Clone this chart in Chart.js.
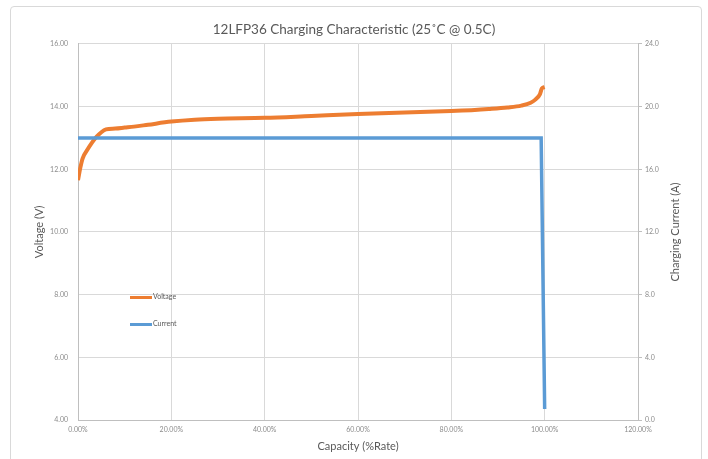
<!DOCTYPE html>
<html>
<head>
<meta charset="utf-8">
<script src="https://cdn.jsdelivr.net/npm/chart.js@4.4.1/dist/chart.umd.min.js"></script>
<style>
  body { margin: 0; background: #fff; font-family: Lato, "Open Sans", sans-serif; }
  #frame { position: absolute; left: 10px; top: 6px; width: 690px; height: 470px;
           border: 1px solid #d9d9d9; border-radius: 4px; }
  #wrap { position: absolute; left: 0; top: 0; width: 708px; height: 459px; }
  .leg { position: absolute; font-size: 7px; color: #595959; line-height: 8px; }
  .leg span { display: inline-block; width: 22px; height: 3px; vertical-align: middle; margin-right: 1px; }
  #rtitle { position: absolute; left: 675px; top: 232px; width: 200px; margin-left: -100px; margin-top: -7px;
            text-align: center; font-size: 11px; line-height: 14px; color: #595959;
            transform: rotate(-90deg); white-space: nowrap; }
</style>
</head>
<body>
<div id="frame"></div>
<div id="wrap"><canvas id="chart" width="708" height="459"></canvas></div>
<div class="leg" style="left:130px; top:292px;"><span style="background:#ED7D31"></span>Voltage</div>
<div class="leg" style="left:130px; top:319px;"><span style="background:#5B9BD5"></span>Current</div>
<div id="rtitle">Charging Current (A)</div>
<script>
// capacity in %, voltage in V
var voltCapacity = [0, 0.5, 1, 2, 3, 4, 5, 6, 8, 10, 12, 15, 20, 25, 30, 40, 50, 60, 70, 80, 85, 88, 92, 95, 97, 98, 99, 99.4, 100];
var voltage      = [11.65, 12.05, 12.35, 12.62, 12.85, 13.04, 13.18, 13.27, 13.30, 13.33, 13.36, 13.42, 13.52, 13.58, 13.61, 13.64, 13.70, 13.76, 13.81, 13.86, 13.89, 13.92, 13.97, 14.03, 14.12, 14.22, 14.40, 14.58, 14.62];

// charging current in A
var currCapacity = [0, 99.25, 100];
var current      = [18, 18, 0.7];

var gridColor = '#d9d9d9';
var tickColor = '#8c8c8c';
var titleColor = '#595959';

function toPoints(xs, ys) {
    return xs.map(function (x, i) { return { x: x, y: ys[i] }; });
}

var ctx = document.getElementById('chart');
new Chart(ctx, {
    type: 'line',
    data: {
        datasets: [{
            label: 'Voltage',
            data: toPoints(voltCapacity, voltage),
            yAxisID: 'y',
            borderColor: '#ED7D31',
            borderWidth: 4,
            pointRadius: 0,
            cubicInterpolationMode: 'monotone',
            order: 2
        }, {
            label: 'Current',
            data: toPoints(currCapacity, current),
            yAxisID: 'y1',
            borderColor: '#5B9BD5',
            borderWidth: 3.5,
            pointRadius: 0,
            order: 1
        }]
    },
    options: {
        responsive: false,
        animation: false,
        layout: { padding: 0 },
        plugins: {
            legend: { display: false },
            tooltip: { enabled: false },
            title: {
                display: true,
                text: '12LFP36 Charging Characteristic (25˚C @ 0.5C)',
                color: titleColor,
                font: { family: 'Lato', size: 13.5, weight: 'normal', lineHeight: 1.25 },
                padding: { top: 21, bottom: 6 }
            }
        },
        scales: {
            x: {
                type: 'linear',
                min: 0, max: 120,
                afterFit: function (s) { s.height = 39; },
                ticks: {
                    stepSize: 20,
                    color: tickColor,
                    font: { family: 'Lato', size: 7 },
                    padding: 6,
                    maxRotation: 0,
                    callback: function (v) { return v.toFixed(2) + '%'; }
                },
                grid: { color: gridColor, tickLength: 0 },
                border: { color: '#bfbfbf' },
                title: {
                    display: true,
                    text: 'Capacity (%Rate)',
                    color: titleColor,
                    font: { family: 'Lato', size: 11 },
                    padding: { top: 0, bottom: 6 }
                }
            },
            y: {
                position: 'left',
                min: 4, max: 16,
                afterFit: function (s) { s.width = 78; },
                ticks: {
                    stepSize: 2,
                    color: tickColor,
                    font: { family: 'Lato', size: 7 },
                    padding: 10,
                    callback: function (v) { return v.toFixed(2); }
                },
                grid: { color: gridColor, tickLength: 0 },
                border: { color: '#bfbfbf' },
                title: {
                    display: true,
                    text: 'Voltage (V)',
                    color: titleColor,
                    font: { family: 'Lato', size: 11 },
                    padding: { top: 33, bottom: 0 }
                }
            },
            y1: {
                position: 'right',
                min: 0, max: 24,
                afterFit: function (s) { s.width = 70; },
                ticks: {
                    stepSize: 4,
                    color: tickColor,
                    font: { family: 'Lato', size: 7 },
                    padding: 3,
                    callback: function (v) { return v.toFixed(1); }
                },
                grid: { drawOnChartArea: false, color: '#bfbfbf', tickLength: 4 },
                border: { color: '#bfbfbf' }
            }
        }
    }
});
</script>
</body>
</html>
